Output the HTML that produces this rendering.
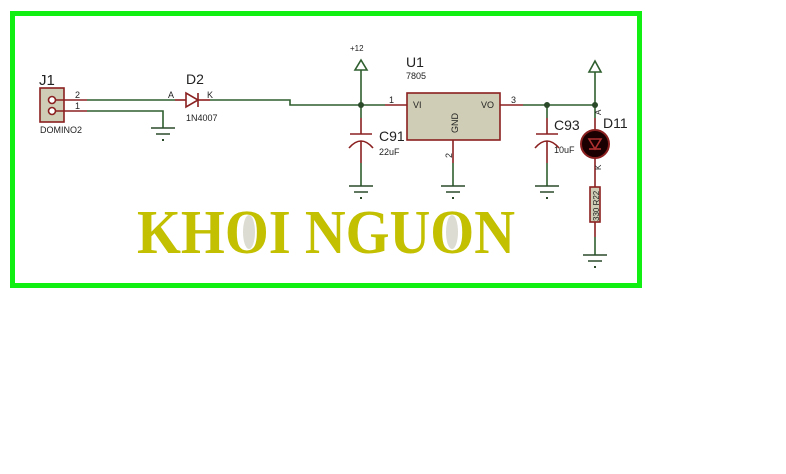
<!DOCTYPE html>
<html><head><meta charset="utf-8"><style>
html,body{margin:0;padding:0;background:#fff;}
svg{display:block;}
text{font-family:"Liberation Sans",sans-serif;}
</style></head><body>
<svg width="786" height="474" viewBox="0 0 786 474" xmlns="http://www.w3.org/2000/svg">
<rect x="12.5" y="13.5" width="627" height="272" fill="none" stroke="#11ee11" stroke-width="5"/>
<defs>
<g id="gnd" stroke="#2a4a2a" stroke-width="1.5" fill="#2a4a2a">
<line x1="-12" y1="0" x2="12" y2="0"/>
<line x1="-7" y1="6" x2="7" y2="6"/>
<rect x="-1" y="11" width="2" height="2" stroke="none"/>
</g>
</defs>
<g fill="none" stroke-width="1.6">
<rect x="40" y="88" width="24" height="34" fill="#cfcdb5" stroke="#8b2020"/>
<circle cx="52" cy="100" r="3.5" stroke="#8b2020" fill="#fff"/>
<circle cx="52" cy="111" r="3.5" stroke="#8b2020" fill="#fff"/>
<line x1="55" y1="100" x2="87" y2="100" stroke="#8b2020"/>
<line x1="55" y1="111" x2="87" y2="111" stroke="#8b2020"/>
<polyline points="87,100 175,100" stroke="#2f5f2f"/>
<polyline points="87,111 163,111 163,128" stroke="#2f5f2f"/>
<line x1="175" y1="100" x2="186" y2="100" stroke="#8b2020"/>
<polygon points="186,93 186,107 198,100" stroke="#8b2020"/>
<line x1="198" y1="93" x2="198" y2="107" stroke="#8b2020"/>
<line x1="198" y1="100" x2="210" y2="100" stroke="#8b2020"/>
<polyline points="210,100 290,100 290,105 385,105" stroke="#2f5f2f"/>
<line x1="385" y1="105" x2="407" y2="105" stroke="#8b2020"/>
<line x1="361" y1="70" x2="361" y2="105" stroke="#2f5f2f"/>
<polygon points="361,60 355,70 367,70" stroke="#2f5f2f"/>
<line x1="361" y1="105" x2="361" y2="118" stroke="#2f5f2f"/>
<line x1="361" y1="118" x2="361" y2="134" stroke="#8b2020"/>
<line x1="350" y1="134" x2="372" y2="134" stroke="#8b2020"/>
<path d="M349,148 Q361,134 373,148" stroke="#8b2020"/>
<line x1="361" y1="141" x2="361" y2="163" stroke="#8b2020"/>
<line x1="361" y1="163" x2="361" y2="186" stroke="#2f5f2f"/>
<rect x="407" y="93" width="93" height="47" fill="#cfcdb5" stroke="#8b2020"/>
<line x1="500" y1="105" x2="523" y2="105" stroke="#8b2020"/>
<line x1="523" y1="105" x2="595" y2="105" stroke="#2f5f2f"/>
<line x1="453" y1="140" x2="453" y2="163" stroke="#8b2020"/>
<line x1="453" y1="163" x2="453" y2="186" stroke="#2f5f2f"/>
<line x1="547" y1="105" x2="547" y2="118" stroke="#2f5f2f"/>
<line x1="547" y1="118" x2="547" y2="134" stroke="#8b2020"/>
<line x1="536" y1="134" x2="558" y2="134" stroke="#8b2020"/>
<path d="M535,148 Q547,134 559,148" stroke="#8b2020"/>
<line x1="547" y1="141" x2="547" y2="163" stroke="#8b2020"/>
<line x1="547" y1="163" x2="547" y2="186" stroke="#2f5f2f"/>
<line x1="595" y1="72" x2="595" y2="118" stroke="#2f5f2f"/>
<polygon points="595,61 589,72 601,72" stroke="#2f5f2f"/>
<line x1="595" y1="118" x2="595" y2="129" stroke="#8b2020"/>
<circle cx="595" cy="144" r="14" fill="#1a0000" stroke="#8b2020" stroke-width="2"/>
<polygon points="589,139 601,139 595,149" stroke="#b03030"/>
<line x1="589" y1="149" x2="601" y2="149" stroke="#b03030"/>
<line x1="595" y1="158" x2="595" y2="187" stroke="#8b2020"/>
<rect x="590" y="187" width="10" height="35" fill="#cfcdb5" stroke="#8b2020"/>
<line x1="595" y1="222" x2="595" y2="237" stroke="#8b2020"/>
<line x1="595" y1="237" x2="595" y2="255" stroke="#2f5f2f"/>
</g>
<circle cx="361" cy="105" r="3" fill="#2a4a2a"/>
<circle cx="547" cy="105" r="3" fill="#2a4a2a"/>
<circle cx="595" cy="105" r="3" fill="#2a4a2a"/>
<use href="#gnd" x="163" y="128"/>
<use href="#gnd" x="361" y="186"/>
<use href="#gnd" x="453" y="186"/>
<use href="#gnd" x="547" y="186"/>
<use href="#gnd" x="595" y="255"/>
<g fill="#222">
<text x="39" y="85" font-size="15">J1</text>
<text x="75" y="98" font-size="9">2</text>
<text x="75" y="109" font-size="9">1</text>
<text x="40" y="133" font-size="9">DOMINO2</text>
<text x="186" y="84" font-size="14">D2</text>
<text x="168" y="98" font-size="9">A</text>
<text x="207" y="98" font-size="9">K</text>
<text x="186" y="121" font-size="9">1N4007</text>
<text x="350" y="51" font-size="8">+12</text>
<text x="406" y="67" font-size="14">U1</text>
<text x="406" y="79" font-size="9">7805</text>
<text x="389" y="103" font-size="9">1</text>
<text x="413" y="108" font-size="9">VI</text>
<text x="481" y="108" font-size="9">VO</text>
<text x="511" y="103" font-size="9">3</text>
<text x="0" y="0" font-size="9" transform="translate(458,133) rotate(-90)">GND</text>
<text x="0" y="0" font-size="9" transform="translate(452,158) rotate(-90)">2</text>
<text x="379" y="141" font-size="14">C91</text>
<text x="379" y="155" font-size="9">22uF</text>
<text x="554" y="130" font-size="14">C93</text>
<text x="554" y="153" font-size="9">10uF</text>
<text x="603" y="128" font-size="14">D11</text>
<text x="0" y="0" font-size="8" transform="translate(601,115) rotate(-90)">A</text>
<text x="0" y="0" font-size="8" transform="translate(601,170) rotate(-90)">K</text>
<text x="0" y="0" font-size="8" transform="translate(599,221) rotate(-90)">330 R22</text>
</g>
<text x="137" y="253" font-size="62" font-weight="bold" fill="#c2c000" textLength="378" lengthAdjust="spacingAndGlyphs" style="font-family:'Liberation Serif',serif">KHOI NGUON</text>
<ellipse cx="249" cy="232" rx="6" ry="17" fill="#dcdcd2"/>
<ellipse cx="452" cy="232" rx="6" ry="17" fill="#dcdcd2"/>
</svg>
</body></html>
